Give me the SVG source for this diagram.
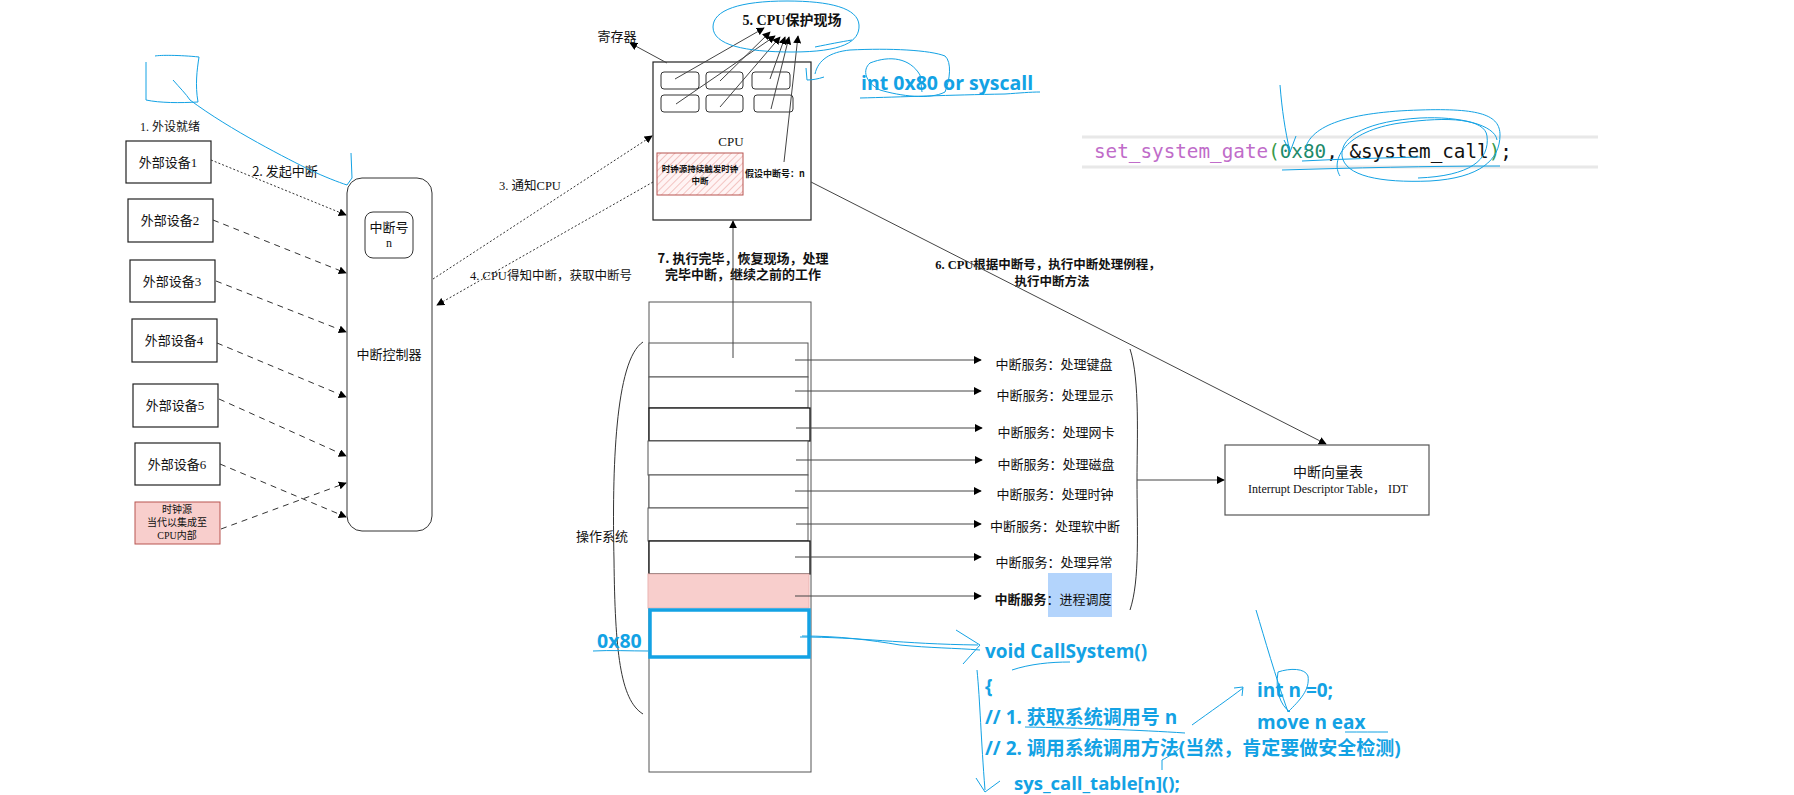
<svg xmlns="http://www.w3.org/2000/svg" width="1794" height="795" viewBox="0 0 1794 795">
<defs>
<marker id="ah" viewBox="0 0 10 10" refX="9" refY="5" markerWidth="8" markerHeight="8" markerUnits="userSpaceOnUse" orient="auto"><path d="M0,0 L10,5 L0,10 z" fill="#000"/></marker>
<pattern id="hatch" width="5" height="5" patternUnits="userSpaceOnUse" patternTransform="rotate(45)"><rect width="5" height="5" fill="#fff4f4"/><line x1="0" y1="0" x2="0" y2="5" stroke="#f0b4b2" stroke-width="1.5"/></pattern>
<style>
.box{fill:#fff;stroke:#222;stroke-width:1.2}
.t{font-family:"Liberation Serif","Noto Sans CJK SC",serif;fill:#111;text-anchor:middle;dominant-baseline:central}
.s{font-family:"Noto Sans CJK SC",sans-serif;fill:#111;text-anchor:middle;dominant-baseline:central}
.dot{fill:none;stroke:#333;stroke-width:1;stroke-dasharray:2 2;marker-end:url(#ah)}
.dash{fill:none;stroke:#333;stroke-width:1;stroke-dasharray:6 5;marker-end:url(#ah)}
.ln{fill:none;stroke:#444;stroke-width:1;marker-end:url(#ah)}
.blue{fill:none;stroke:#13a2e4;stroke-width:1}
.bt{font-family:"Open Sans","Noto Sans CJK SC",sans-serif;font-weight:bold;fill:#13a2e4;dominant-baseline:central}
.row{fill:#fff;stroke:#555;stroke-width:1}
</style>
</defs>
<rect width="1794" height="795" fill="#fff"/>

<!-- devices -->
<text class="t" x="170" y="127" font-size="12">1. 外设就绪</text>
<g id="dev1"><rect class="box" x="126" y="141" width="85" height="42"/><text class="t" x="168" y="162" font-size="13">外部设备1</text></g>
<g id="dev2"><rect class="box" x="128" y="199" width="85" height="43"/><text class="t" x="170" y="220" font-size="13">外部设备2</text></g>
<g id="dev3"><rect class="box" x="130" y="260" width="85" height="42"/><text class="t" x="172" y="281" font-size="13">外部设备3</text></g>
<g id="dev4"><rect class="box" x="132" y="319" width="85" height="43"/><text class="t" x="174" y="340" font-size="13">外部设备4</text></g>
<g id="dev5"><rect class="box" x="133" y="384" width="85" height="43"/><text class="t" x="175" y="405" font-size="13">外部设备5</text></g>
<g id="dev6"><rect class="box" x="135" y="443" width="85" height="42"/><text class="t" x="177" y="464" font-size="13">外部设备6</text></g>
<g id="clock"><rect x="135" y="502" width="85" height="42" fill="#f8cecc" stroke="#b85450" stroke-width="1"/>
<text class="t" x="177" y="509" font-size="10">时钟源</text><text class="t" x="177" y="522" font-size="10">当代以集成至</text><text class="t" x="177" y="535" font-size="10">CPU内部</text></g>

<!-- controller -->
<g id="controller"><rect x="347" y="178" width="85" height="353" rx="15" fill="#fff" stroke="#333" stroke-width="1"/>
<text class="s" x="389" y="353" font-size="13">中断控制器</text></g>
<g id="irqno"><rect x="365" y="212" width="48" height="46" rx="8" fill="#fff" stroke="#333" stroke-width="1"/>
<text class="s" x="389" y="226" font-size="13">中断号</text><text class="t" x="389" y="243" font-size="12">n</text></g>

<!-- CPU -->
<g id="cpu"><rect class="box" x="653" y="62" width="158" height="158"/>
<rect x="661" y="72" width="38" height="17" rx="3" fill="#fff" stroke="#333"/>
<rect x="706" y="72" width="37" height="17" rx="3" fill="#fff" stroke="#333"/>
<rect x="752" y="72" width="38" height="17" rx="3" fill="#fff" stroke="#333"/>
<rect x="661" y="95" width="38" height="17" rx="3" fill="#fff" stroke="#333"/>
<rect x="706" y="95" width="37" height="17" rx="3" fill="#fff" stroke="#333"/>
<rect x="754" y="95" width="39" height="17" rx="3" fill="#fff" stroke="#333"/>
<text class="t" x="731" y="141" font-size="13">CPU</text>
<rect x="657" y="153" width="86" height="42" fill="url(#hatch)" stroke="#b85450" stroke-width="1"/>
<text class="s" x="700" y="168" font-size="8.5" font-weight="bold">时钟源持续触发时钟</text>
<text class="s" x="700" y="180" font-size="8.5" font-weight="bold">中断</text>
<text class="s" x="775" y="173" font-size="9" font-weight="bold">假设中断号：n</text></g>
<text class="s" x="617" y="35" font-size="13">寄存器</text>
<g id="step5"><text class="t" x="792" y="20" font-size="14" font-weight="bold">5. CPU保护现场</text></g>

<!-- IDT -->
<g id="idt"><rect x="1225" y="445" width="204" height="70" fill="#fff" stroke="#555" stroke-width="1.2"/>
<text class="s" x="1328" y="471" font-size="14">中断向量表</text>
<text class="t" x="1328" y="489" font-size="12">Interrupt Descriptor Table， IDT</text></g>

<!-- stack -->
<g id="stack">
<rect class="row" x="649" y="302" width="162" height="470"/>
<rect class="row" x="649" y="343" width="159" height="34" stroke="#777"/>
<rect class="row" x="649" y="377" width="159" height="31" stroke="#777"/>
<rect x="649" y="408" width="161" height="33" fill="#fff" stroke="#111" stroke-width="1.3"/>
<rect class="row" x="648" y="441" width="160" height="34" stroke="#888"/>
<rect class="row" x="649" y="475" width="159" height="33" stroke="#777"/>
<rect class="row" x="648" y="508" width="160" height="33" stroke="#888"/>
<rect x="649" y="541" width="161" height="33" fill="#fff" stroke="#111" stroke-width="1.3"/>
<rect x="648" y="574" width="161" height="34" fill="#f8cecc" stroke="#eab4b2" stroke-width="1"/>
<rect x="650" y="610" width="159" height="47" fill="#fff" stroke="#13a2e4" stroke-width="3.5"/>
</g>
<text class="s" x="602" y="535" font-size="13">操作系统</text>
<path d="M643,342 C615,360 612,470 614,560 C615,650 620,700 643,714" fill="none" stroke="#333" stroke-width="1"/>
<path d="M1130,349 C1140,380 1137,440 1137,480 C1137,530 1140,580 1130,610" fill="none" stroke="#333" stroke-width="1"/>

<!-- services -->
<g id="svc1"><text class="s" x="1054" y="363" font-size="13">中断服务：处理键盘</text></g>
<g id="svc2"><text class="s" x="1055" y="394" font-size="13">中断服务：处理显示</text></g>
<g id="svc3"><text class="s" x="1056" y="431" font-size="13">中断服务：处理网卡</text></g>
<g id="svc4"><text class="s" x="1056" y="463" font-size="13">中断服务：处理磁盘</text></g>
<g id="svc5"><text class="s" x="1055" y="493" font-size="13">中断服务：处理时钟</text></g>
<g id="svc6"><text class="s" x="1055" y="525" font-size="13">中断服务：处理软中断</text></g>
<g id="svc7"><text class="s" x="1054" y="561" font-size="13">中断服务：处理异常</text></g>
<g id="svc8"><rect x="1048" y="573" width="64" height="44" fill="#b3d4fc"/>
<text class="s" x="1053" y="598" font-size="13"><tspan font-weight="bold">中断服务</tspan>：进程调度</text></g>

<!-- labels -->
<text class="s" x="285" y="170" font-size="13">2. 发起中断</text>
<text class="t" x="530" y="186" font-size="12.5">3. 通知CPU</text>
<text class="t" x="551" y="276" font-size="12.5">4. CPU得知中断，获取中断号</text>
<text class="s" x="743" y="257" font-size="13" font-weight="bold">7. 执行完毕，恢复现场，处理</text>
<text class="s" x="743" y="273" font-size="13" font-weight="bold">完毕中断，继续之前的工作</text>
<text class="t" x="1048" y="265" font-size="12.5" font-weight="bold">6. CPU根据中断号，执行中断处理例程，</text>
<text class="s" x="1052" y="280" font-size="12.5" font-weight="bold">执行中断方法</text>

<!-- connectors -->
<g id="connectors">
<path class="dot" d="M211,160 L346,215"/>
<path class="dash" d="M213,220 L346,273"/>
<path class="dash" d="M216,281 L346,332"/>
<path class="dash" d="M217,343 L346,397"/>
<path class="dash" d="M219,399 L346,456"/>
<path class="dash" d="M220,464 L346,517"/>
<path class="dash" d="M221,529 L346,483"/>
<path class="dot" d="M433,279 L652,136"/>
<path class="dot" d="M653,182 L437,305"/>
<path class="ln" d="M667,63 L630,43"/>
<path class="ln" d="M675,79 L764,28"/>
<path class="ln" d="M720,81 L770,32"/>
<path class="ln" d="M676,104 L775,36"/>
<path class="ln" d="M720,107 L780,37"/>
<path class="ln" d="M770,79 L785,37"/>
<path class="ln" d="M771,109 L789,37"/>
<path class="ln" d="M784,162 L798,36"/>
<path class="ln" d="M733,358 L733,221"/>
<path class="ln" d="M811,182 L1326,444"/>
<path class="ln" d="M1137,480 L1224,480"/>
<path class="ln" d="M795,360 L981,360"/>
<path class="ln" d="M795,391 L981,391"/>
<path class="ln" d="M796,428 L982,428"/>
<path class="ln" d="M796,460 L982,460"/>
<path class="ln" d="M795,491 L981,491"/>
<path class="ln" d="M796,524 L981,524"/>
<path class="ln" d="M795,557 L981,557"/>
<path class="ln" d="M795,596 L981,596"/>
</g>

<!-- code line -->
<g id="code">
<line x1="1082" y1="137" x2="1598" y2="137" stroke="#e8e8e8" stroke-width="3"/>
<line x1="1082" y1="167" x2="1598" y2="167" stroke="#e8e8e8" stroke-width="3"/>
<text x="1094" y="151" font-family="DejaVu Sans Mono,monospace" font-size="19.3" dominant-baseline="central" fill="#111"><tspan fill="#c06cc9">set_system_gate</tspan><tspan fill="#3a9a4a">(</tspan><tspan fill="#1d8a6a">0x80</tspan>, &amp;system_call<tspan fill="#3a9a4a">)</tspan>;</text>
</g>

<!-- blue annotations -->
<g id="annotations">
<text class="bt" x="861" y="82" font-size="19.5">int 0x80 or syscall</text>
<text class="bt" x="597" y="640" font-size="19.5">0x80</text>
<text class="bt" x="985" y="651" font-size="19">void CallSystem()</text>
<text class="bt" x="985" y="686" font-size="19">{</text>
<text class="bt" x="985" y="717" font-size="19">// 1. 获取系统调用号 n</text>
<text class="bt" x="985" y="748" font-size="19">// 2. 调用系统调用方法(当然，肯定要做安全检测)</text>
<text class="bt" x="1014" y="782" font-size="18.5">sys_call_table[n]();</text>
<text class="bt" x="1257" y="690" font-size="19">int n =0;</text>
<text class="bt" x="1257" y="722" font-size="19">move n eax</text>

<path class="blue" d="M146,62 L146,100 C160,103 180,103 198,102 C195,85 197,70 199,57 C180,55 160,55 155,56"/>
<path class="blue" d="M173,80 C180,88 186,94 190,100 C230,130 290,160 310,170 C325,177 338,182 347,185 L352,178 L351,153"/>
<path class="blue" d="M787,1 C740,1 713,10 713,27 C713,45 745,52 792,52 C842,52 860,42 859,25 C858,8 830,1 787,1"/>
<path class="blue" d="M815,47 C830,44 840,42 852,40 M806,68 L807,80 C812,80 818,79 824,77 M815,74 C818,60 830,52 850,50 C890,48 930,50 945,56 C952,62 950,80 945,92 C930,100 900,96 880,90 C865,82 862,70 870,63 C890,55 910,58 920,75 L922,92"/>
<path class="blue" d="M860,98 C900,97 950,95 1005,94 C1020,93 1030,92 1040,92"/>
<path class="blue" d="M1280,85 C1282,110 1285,130 1290,152 L1284,140 M1290,152 L1296,136"/>
<path class="blue" d="M1305,150 C1310,125 1350,112 1420,110 C1480,108 1500,115 1500,135 C1500,160 1480,178 1430,181 C1380,183 1345,176 1342,156 C1340,135 1370,121 1420,118 C1460,116 1495,125 1497,140"/>
<path class="blue" d="M1340,176 C1330,160 1345,131 1400,123 C1450,116 1485,119 1487,136 C1490,160 1470,176 1418,178"/>
<path class="blue" d="M1282,170 C1350,168 1430,166 1500,166 M1302,161 C1340,159 1380,158 1420,157"/>
<path class="blue" d="M593,651 C610,650 630,651 648,651"/>
<path class="blue" d="M802,636 C840,636 870,640 900,645 C930,648 955,648 980,650 M956,630 L980,645 L963,664 M800,637 C860,637 900,644 978,645"/>
<path class="blue" d="M1012,670 C1030,664 1050,662 1070,662"/>
<path class="blue" d="M977,670 C980,700 981,740 985,790 M976,778 L985,792 L1000,781"/>
<path class="blue" d="M1025,727 C1080,728 1140,730 1185,733"/>
<path class="blue" d="M1192,725 C1210,712 1230,698 1243,688 M1234,688 L1243,687 L1242,696"/>
<path class="blue" d="M1256,610 C1265,640 1275,675 1288,712 C1300,700 1310,690 1308,676 C1305,668 1290,668 1278,672 C1275,690 1280,705 1290,712"/>
<path class="blue" d="M1345,732 C1360,732 1375,732 1388,732"/>
<path class="blue" d="M1162,770 L1162,760 C1170,756 1175,752 1180,748"/>
</g>
</svg>
